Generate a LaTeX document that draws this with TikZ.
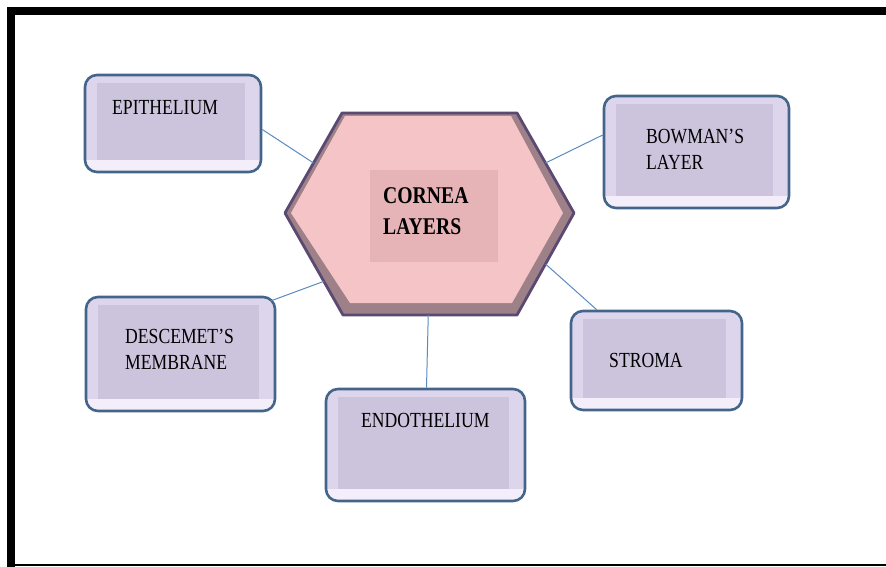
\documentclass[tikz,border=0pt]{standalone}
\usepackage{fontspec}
\setmainfont[FakeStretch=0.82]{Liberation Serif}
\usetikzlibrary{calc}

\definecolor{boxline}{HTML}{44658A}
\definecolor{boxouter}{HTML}{DDD5EB}
\definecolor{boxlight}{HTML}{F3EEFA}
\definecolor{boxface}{HTML}{CCC3DC}
\definecolor{hexline}{HTML}{5A4A72}
\definecolor{hexshade}{HTML}{9E8088}
\definecolor{hexface}{HTML}{F4C4C6}
\definecolor{hextext}{HTML}{E6B3B7}
\definecolor{linkblue}{HTML}{5B8AC0}

\begin{document}
\begin{tikzpicture}[x=1pt, y=-1pt,
    layerbox/.style={draw=boxline, line width=2.6pt, rounded corners=12pt, fill=boxouter, inner sep=0pt,
      path picture={
        \fill[boxlight, sharp corners] ([yshift=12pt]path picture bounding box.south west) rectangle (path picture bounding box.south east);
        \fill[boxface, sharp corners] ([shift={(12pt,-8pt)}]path picture bounding box.north west) rectangle ([shift={(-16pt,12pt)}]path picture bounding box.south east);}},
    layertext/.style={font=\fontsize{21.5}{26}\selectfont, align=left, inner sep=0pt},
    link/.style={draw=linkblue, line width=1pt}]
    \useasboundingbox (0, 0) rectangle (886, 567);
    \fill[black] (7, 7) rectangle (886, 15);
    \fill[black] (7, 7) rectangle (15, 567);
    \draw[line width=1.2pt] (15, 565) -- (886, 565);

    \coordinate (hA) at (342, 113);
    \coordinate (hB) at (517, 113);
    \coordinate (hC) at (574, 213);
    \coordinate (hD) at (517, 315);
    \coordinate (hE) at (343, 315);
    \coordinate (hF) at (285, 213);
    \fill[hexshade] (hA) -- (hB) -- (hC) -- (hD) -- (hE) -- (hF) -- cycle;
    \fill[hexface] (345, 116) -- (511, 116) -- (563, 213) -- (512, 303) -- (350, 303) -- (291, 213) -- cycle;
    \draw[hexline, line width=2.8pt, line join=round] (hA) -- (hB) -- (hC) -- (hD) -- (hE) -- (hF) -- cycle;
    \node[fill=hextext, minimum width=128, minimum height=92] (cornea) at (434, 216) {};
    \node[font=\fontsize{24}{31}\selectfont\bfseries, align=left, anchor=west, inner sep=0pt] (corneat) at (383, 211) {CORNEA\\LAYERS};

    \node[layerbox, minimum width=176, minimum height=97] (epi) at (173, 123.5) {};
    \node[layerbox, minimum width=185, minimum height=112] (bow) at (696.5, 152) {};
    \node[layerbox, minimum width=189, minimum height=114] (desc) at (180.5, 354) {};
    \node[layerbox, minimum width=171, minimum height=99] (stroma) at (656.5, 360.5) {};
    \node[layerbox, minimum width=199, minimum height=112] (endo) at (425.5, 445) {};

    \node[layertext, anchor=west] (epit) at (112, 108) {EPITHELIUM};
    \node[layertext, anchor=west] (bowt) at (646, 149) {BOWMAN'S\\LAYER};
    \node[layertext, anchor=west] (desct) at (125, 349) {DESCEMET'S\\MEMBRANE};
    \node[layertext, anchor=west] (stromat) at (609, 360) {STROMA};
    \node[layertext, anchor=west] (endot) at (361, 420) {ENDOTHELIUM};

    \coordinate (pEpi) at ($(hF)!0.5!(hA)$);
    \coordinate (pBow) at ($(hB)!0.5!(hC)$);
    \coordinate (pDesc) at ($(hF)!0.67!(hE)$);
    \coordinate (pStroma) at ($(hC)!0.5!(hD)$);
    \coordinate (pEndo) at ($(hE)!0.49!(hD)$);
    \draw[link] ([yshift=-6pt]epi.east) -- (pEpi);
    \draw[link] ([yshift=17pt]bow.west) -- (pBow);
    \draw[link] ([shift={(-5pt,-5pt)}]desc.north east) -- (pDesc);
    \draw[link] ([xshift=27pt]stroma.north west) -- (pStroma);
    \draw[link] ([xshift=1pt]endo.north) -- (pEndo);
  \end{tikzpicture}
\end{document}
